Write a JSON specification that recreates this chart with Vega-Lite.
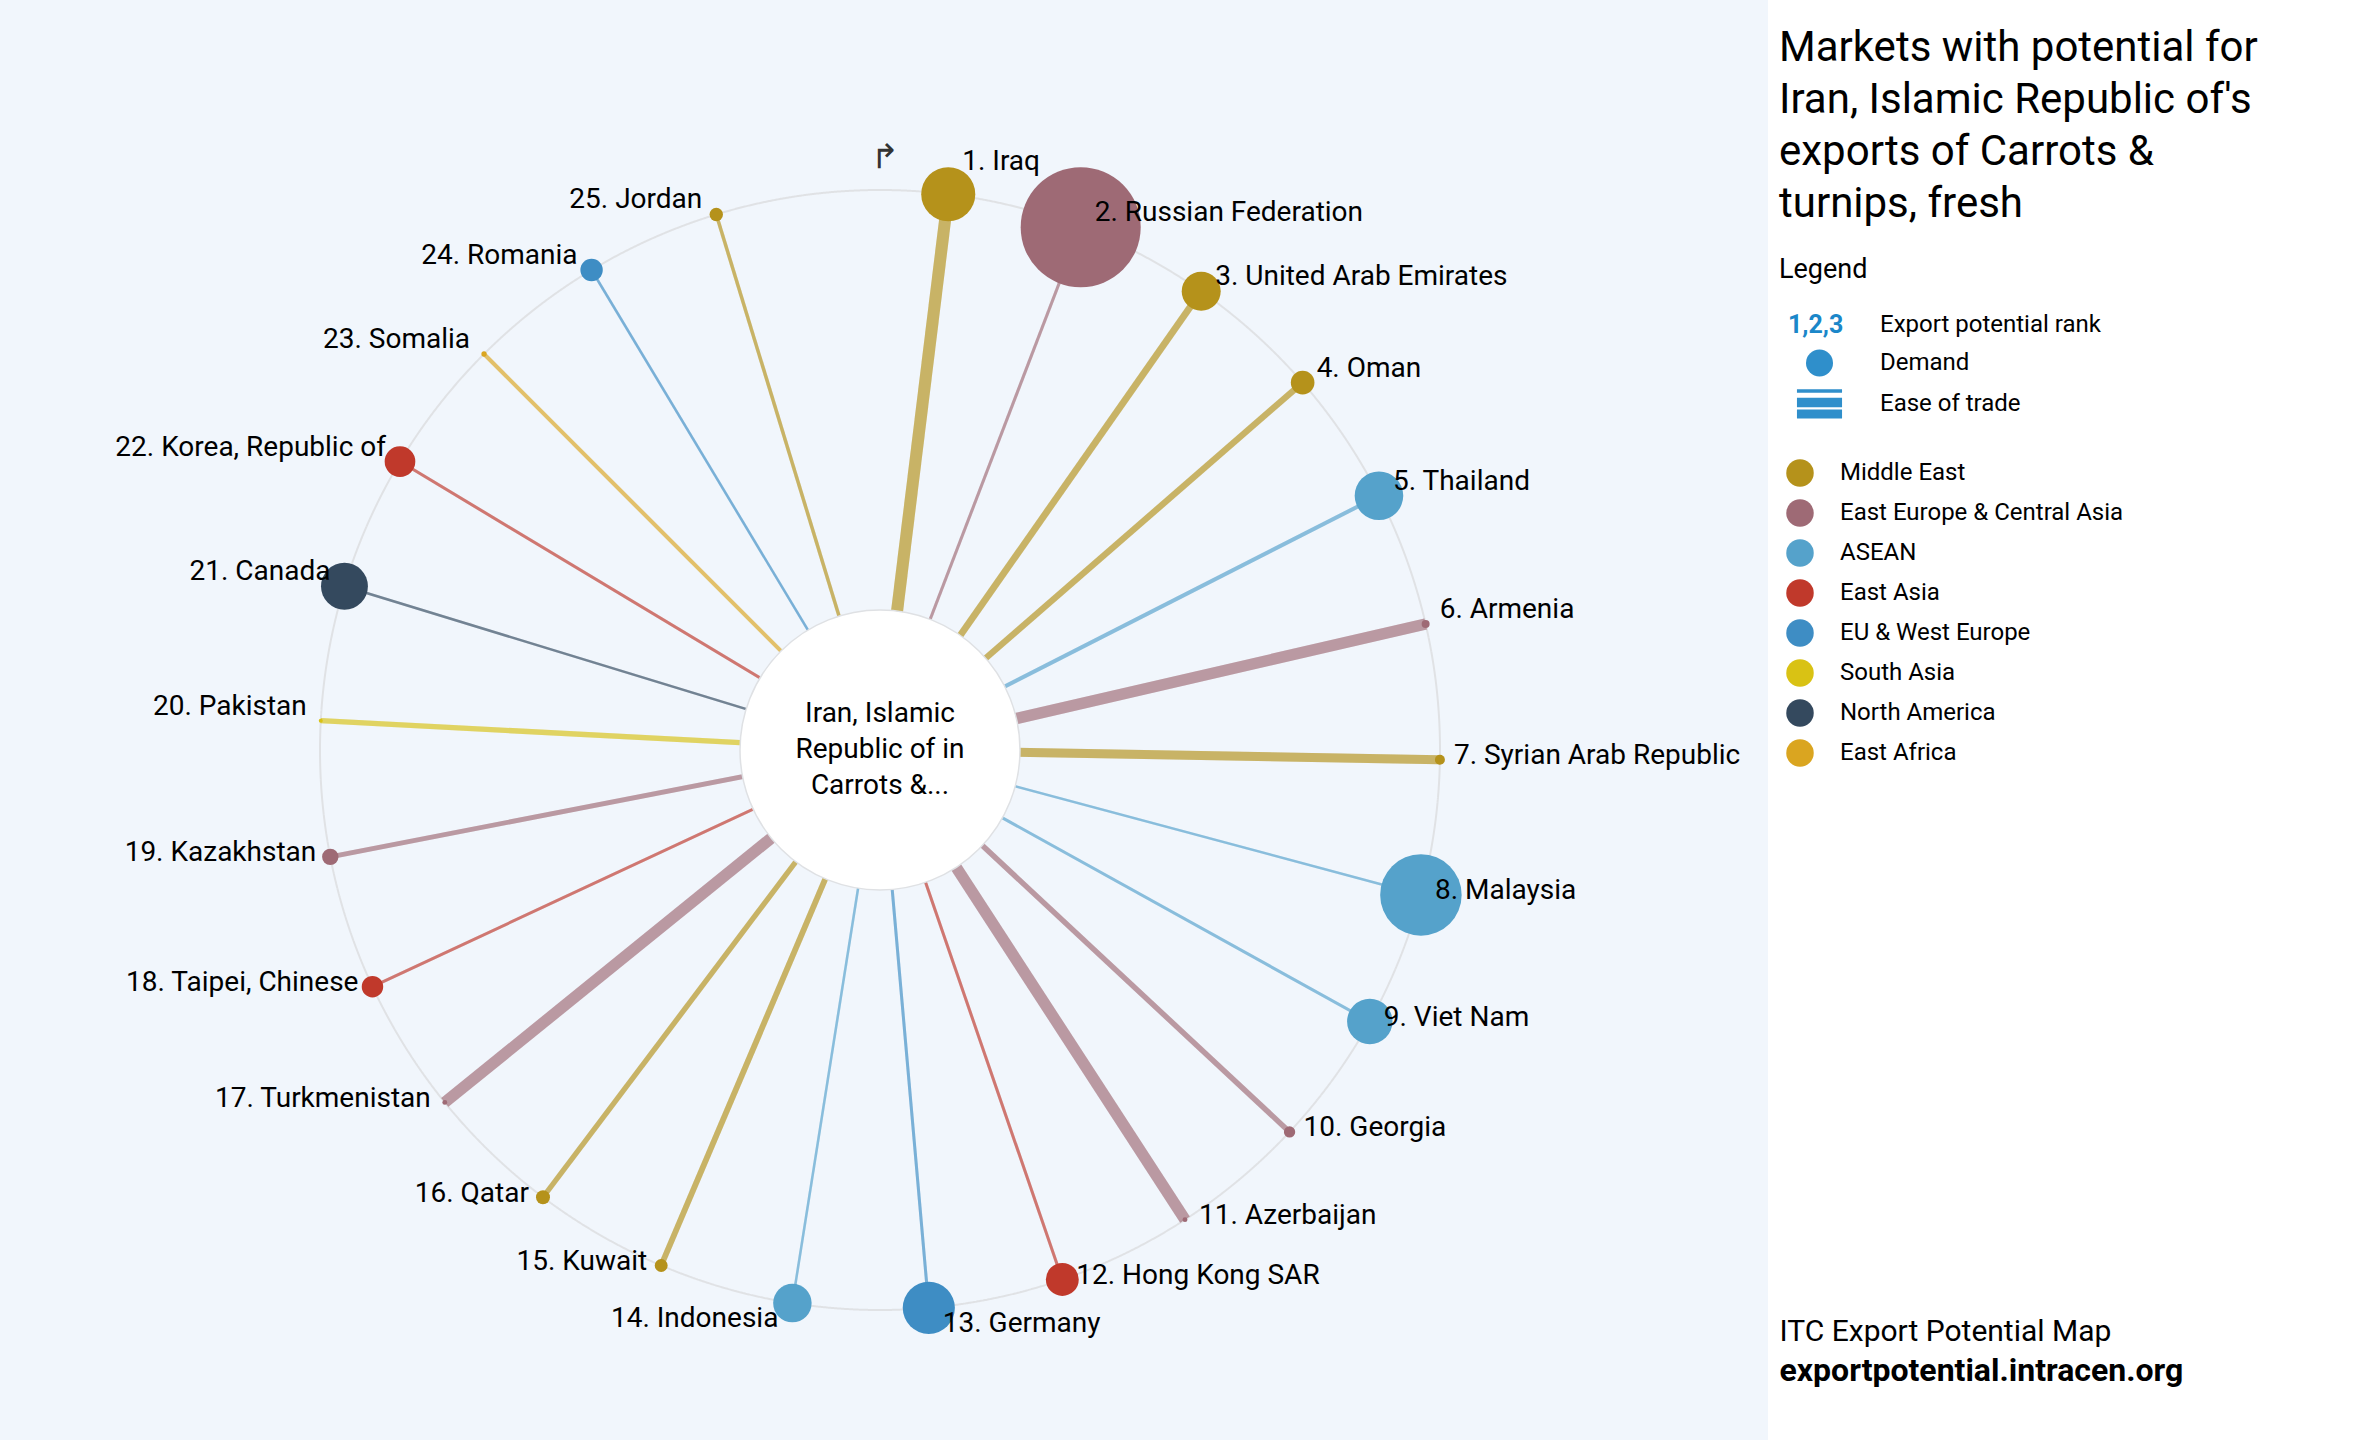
{
  "$schema": "https://vega.github.io/schema/vega-lite/v6.json",
  "width": 2360,
  "height": 1440,
  "autosize": {"type": "none"},
  "padding": 0,
  "background": "#ffffff",
  "title": {
    "text": ["Markets with potential for", "Iran, Islamic Republic of's", "exports of Carrots &", "turnips, fresh"],
    "orient": "none",
    "frame": "group",
    "anchor": "start",
    "align": "left",
    "baseline": "top",
    "dx": 1779,
    "dy": 28,
    "font": "Roboto",
    "fontSize": 42,
    "fontWeight": "normal",
    "lineHeight": 52,
    "color": "#000000"
  },
  "config": {
    "view": {
      "stroke": null,
      "fill": {
        "gradient": "linear",
        "x1": 0, "y1": 0, "x2": 1, "y2": 0,
        "stops": [
          {"offset": 0, "color": "#f1f6fc"},
          {"offset": 0.7492, "color": "#f1f6fc"},
          {"offset": 0.7492, "color": "#ffffff"},
          {"offset": 1, "color": "#ffffff"}
        ]
      }
    },
    "font": "Roboto",
    "legend": {
      "labelFont": "Roboto",
      "labelColor": "#000000",
      "labelFontSize": 24,
      "padding": 0,
      "titleFont": "Roboto",
      "titleColor": "#000000",
      "titleFontWeight": "normal",
      "labelLimit": 800,
      "symbolStrokeWidth": 0
    }
  },
  "datasets": {
    "markets": [
      {"rank": 1, "country": "Iraq", "region": "Middle East", "demand": 7.3, "ease": 100},
      {"rank": 2, "country": "Russian Federation", "region": "East Europe & Central Asia", "demand": 36, "ease": 25},
      {"rank": 3, "country": "United Arab Emirates", "region": "Middle East", "demand": 3.8, "ease": 56},
      {"rank": 4, "country": "Oman", "region": "Middle East", "demand": 1.4, "ease": 52},
      {"rank": 5, "country": "Thailand", "region": "ASEAN", "demand": 5.9, "ease": 33},
      {"rank": 6, "country": "Armenia", "region": "East Europe & Central Asia", "demand": 0.16, "ease": 95},
      {"rank": 7, "country": "Syrian Arab Republic", "region": "Middle East", "demand": 0.25, "ease": 75},
      {"rank": 8, "country": "Malaysia", "region": "ASEAN", "demand": 16.6, "ease": 21},
      {"rank": 9, "country": "Viet Nam", "region": "ASEAN", "demand": 5.15, "ease": 25},
      {"rank": 10, "country": "Georgia", "region": "East Europe & Central Asia", "demand": 0.32, "ease": 45},
      {"rank": 11, "country": "Azerbaijan", "region": "East Europe & Central Asia", "demand": 0.06, "ease": 95},
      {"rank": 12, "country": "Hong Kong SAR", "region": "East Asia", "demand": 2.7, "ease": 25},
      {"rank": 13, "country": "Germany", "region": "EU & West Europe", "demand": 6.8, "ease": 25},
      {"rank": 14, "country": "Indonesia", "region": "ASEAN", "demand": 3.7, "ease": 21},
      {"rank": 15, "country": "Kuwait", "region": "Middle East", "demand": 0.42, "ease": 48},
      {"rank": 16, "country": "Qatar", "region": "Middle East", "demand": 0.49, "ease": 44},
      {"rank": 17, "country": "Turkmenistan", "region": "East Europe & Central Asia", "demand": 0.06, "ease": 95},
      {"rank": 18, "country": "Taipei, Chinese", "region": "East Asia", "demand": 1.15, "ease": 25},
      {"rank": 19, "country": "Kazakhstan", "region": "East Europe & Central Asia", "demand": 0.67, "ease": 40},
      {"rank": 20, "country": "Pakistan", "region": "South Asia", "demand": 0.04, "ease": 44},
      {"rank": 21, "country": "Canada", "region": "North America", "demand": 5.5, "ease": 21},
      {"rank": 22, "country": "Korea, Republic of", "region": "East Asia", "demand": 2.35, "ease": 25},
      {"rank": 23, "country": "Somalia", "region": "East Africa", "demand": 0.07, "ease": 33},
      {"rank": 24, "country": "Romania", "region": "EU & West Europe", "demand": 1.25, "ease": 21},
      {"rank": 25, "country": "Jordan", "region": "Middle East", "demand": 0.45, "ease": 29}
    ]
  },
  "data": {"name": "markets"},
  "transform": [
    {"calculate": "(14 * datum.rank - 7) * PI / 180", "as": "theta"},
    {"calculate": "sin(datum.theta)", "as": "x"},
    {"calculate": "cos(datum.theta)", "as": "y"},
    {"calculate": "datum.rank + '. ' + datum.country", "as": "label"}
  ],
  "layer": [
    {
      "data": {"values": [{"guide": "outer ring"}]},
      "mark": {"type": "point", "filled": false, "shape": "circle", "size": 1254400, "stroke": "#e0e2e5", "strokeWidth": 2, "opacity": 1},
      "encoding": {
        "x": {
          "datum": 0, "type": "quantitative",
          "scale": {"domain": [-1.571429, 2.642857], "nice": false, "zero": false},
          "axis": {"title": "ITC Export Potential Map", "orient": "bottom", "labels": false, "ticks": false, "domain": false, "grid": false, "titleX": 1779, "titleY": -100, "titleAnchor": "start", "titleAlign": "left", "titleBaseline": "alphabetic", "titleFont": "Roboto", "titleFontSize": 30, "titleFontWeight": "normal", "titleColor": "#000000", "titlePadding": 0}
        },
        "y": {
          "datum": 0, "type": "quantitative",
          "scale": {"domain": [-1.232143, 1.339286], "nice": false, "zero": false},
          "axis": {"title": "exportpotential.intracen.org", "orient": "left", "labels": false, "ticks": false, "domain": false, "grid": false, "titleAngle": 0, "titleX": 1779, "titleY": 1380, "titleAlign": "left", "titleBaseline": "alphabetic", "titleFont": "Roboto", "titleFontSize": 32, "titleFontWeight": "bold", "titleColor": "#000000", "titlePadding": 0}
        },
        "strokeDash": {
          "datum": "1,2,3", "type": "nominal",
          "scale": {"domain": ["1,2,3"], "range": [[1, 0]]},
          "legend": {"orient": "none", "legendX": 1779, "legendY": 257, "title": "Legend", "titleFontSize": 27, "titlePadding": 28, "titleFontWeight": "normal", "symbolType": "circle", "symbolSize": 1, "symbolOpacity": 0, "labelOffset": -16, "labelFontSize": 25, "labelFontWeight": "bold", "labelColor": "#1b87c9"}
        }
      }
    },
    {
      "mark": {"type": "rule", "opacity": 0.58, "strokeCap": "butt"},
      "encoding": {
        "x": {"field": "x", "type": "quantitative"},
        "y": {"field": "y", "type": "quantitative"},
        "x2": {"datum": 0},
        "y2": {"datum": 0},
        "stroke": {"field": "region", "type": "nominal", "scale": {"domain": ["East Africa", "North America", "South Asia", "EU & West Europe", "East Asia", "ASEAN", "East Europe & Central Asia", "Middle East"], "range": ["#daa520", "#34495e", "#d9c214", "#3e8dc4", "#c0392b", "#55a2cb", "#9e6a75", "#b5921b"]}, "legend": null},
        "strokeWidth": {"field": "ease", "type": "quantitative", "scale": {"domain": [0, 100], "range": [0, 12]}, "legend": null}
      }
    },
    {
      "mark": {"type": "rule", "opacity": 0.2, "strokeCap": "butt"},
      "encoding": {
        "x": {"field": "x", "type": "quantitative"},
        "y": {"field": "y", "type": "quantitative"},
        "x2": {"datum": 0},
        "y2": {"datum": 0},
        "stroke": {"field": "region", "type": "nominal", "legend": null},
        "strokeWidth": {"field": "ease", "type": "quantitative", "legend": null}
      }
    },
    {
      "data": {"values": [{"exporter": "Iran, Islamic\nRepublic of in\nCarrots &..."}]},
      "mark": {"type": "point", "filled": true, "shape": "circle", "size": 78400, "fill": "#ffffff", "stroke": "#dfe1e4", "strokeWidth": 1.5, "opacity": 1},
      "encoding": {
        "x": {"datum": 0, "type": "quantitative"},
        "y": {"datum": 0, "type": "quantitative"}
      }
    },
    {
      "data": {"values": [{"exporter": "Iran, Islamic\nRepublic of in\nCarrots &..."}]},
      "mark": {"type": "text", "align": "center", "baseline": "middle", "dy": -36, "fontSize": 28, "lineHeight": 36, "lineBreak": "\n", "font": "Roboto", "color": "#000000"},
      "encoding": {
        "x": {"datum": 0, "type": "quantitative"},
        "y": {"datum": 0, "type": "quantitative"},
        "text": {"field": "exporter"}
      }
    },
    {
      "mark": {"type": "point", "filled": true, "shape": "circle", "opacity": 1, "strokeWidth": 0},
      "encoding": {
        "x": {"field": "x", "type": "quantitative"},
        "y": {"field": "y", "type": "quantitative"},
        "size": {"field": "demand", "type": "quantitative", "scale": {"domain": [0, 36], "range": [0, 14400]}, "legend": null},
        "fill": {
          "field": "region", "type": "nominal",
          "scale": {"domain": ["Middle East", "East Europe & Central Asia", "ASEAN", "East Asia", "EU & West Europe", "South Asia", "North America", "East Africa"], "range": ["#b5921b", "#9e6a75", "#55a2cb", "#c0392b", "#3e8dc4", "#d9c214", "#34495e", "#daa520"]},
          "legend": {"orient": "none", "legendX": 1786, "legendY": 459, "title": null, "symbolType": "circle", "symbolSize": 756, "labelOffset": 26, "rowPadding": 12, "labelFontSize": 24, "symbolStrokeWidth": 0, "symbolOpacity": 1}
        },
        "shape": {
          "datum": "Demand", "type": "nominal",
          "scale": {"domain": ["Export potential rank", "Demand", "Ease of trade"], "range": ["M0,0Z", "circle", "M-1.67,-1.09H1.67V-0.84H-1.67Z M-1.67,-0.47H1.67V0.24H-1.67Z M-1.67,0.41H1.67V1.08H-1.67Z"]},
          "legend": {"orient": "none", "legendX": 1806, "legendY": 311.5, "title": null, "symbolSize": 729, "labelOffset": 47, "rowPadding": 12, "labelFontSize": 24, "symbolStrokeWidth": 0, "symbolFillColor": "#2f8fcb", "symbolOpacity": 1}
        }
      }
    },
    {
      "transform": [{"filter": "datum.rank == 1"}],
      "mark": {"type": "text", "align": "left", "baseline": "alphabetic", "dx": 14, "dy": -24, "fontSize": 28, "font": "Roboto", "color": "#000000"},
      "encoding": {"x": {"field": "x", "type": "quantitative"}, "y": {"field": "y", "type": "quantitative"}, "text": {"field": "label"}}
    },
    {
      "transform": [{"filter": "datum.rank >= 2 && datum.rank <= 6"}],
      "mark": {"type": "text", "align": "left", "baseline": "alphabetic", "dx": 14, "dy": -6, "fontSize": 28, "font": "Roboto", "color": "#000000"},
      "encoding": {"x": {"field": "x", "type": "quantitative"}, "y": {"field": "y", "type": "quantitative"}, "text": {"field": "label"}}
    },
    {
      "transform": [{"filter": "datum.rank >= 7 && datum.rank <= 12"}],
      "mark": {"type": "text", "align": "left", "baseline": "alphabetic", "dx": 14, "dy": 4.5, "fontSize": 28, "font": "Roboto", "color": "#000000"},
      "encoding": {"x": {"field": "x", "type": "quantitative"}, "y": {"field": "y", "type": "quantitative"}, "text": {"field": "label"}}
    },
    {
      "transform": [{"filter": "datum.rank == 13"}],
      "mark": {"type": "text", "align": "left", "baseline": "alphabetic", "dx": 14, "dy": 24, "fontSize": 28, "font": "Roboto", "color": "#000000"},
      "encoding": {"x": {"field": "x", "type": "quantitative"}, "y": {"field": "y", "type": "quantitative"}, "text": {"field": "label"}}
    },
    {
      "transform": [{"filter": "datum.rank == 14"}],
      "mark": {"type": "text", "align": "right", "baseline": "alphabetic", "dx": -14, "dy": 24, "fontSize": 28, "font": "Roboto", "color": "#000000"},
      "encoding": {"x": {"field": "x", "type": "quantitative"}, "y": {"field": "y", "type": "quantitative"}, "text": {"field": "label"}}
    },
    {
      "transform": [{"filter": "datum.rank >= 15 && datum.rank <= 19"}],
      "mark": {"type": "text", "align": "right", "baseline": "alphabetic", "dx": -14, "dy": 4.5, "fontSize": 28, "font": "Roboto", "color": "#000000"},
      "encoding": {"x": {"field": "x", "type": "quantitative"}, "y": {"field": "y", "type": "quantitative"}, "text": {"field": "label"}}
    },
    {
      "transform": [{"filter": "datum.rank >= 20"}],
      "mark": {"type": "text", "align": "right", "baseline": "alphabetic", "dx": -14, "dy": -6, "fontSize": 28, "font": "Roboto", "color": "#000000"},
      "encoding": {"x": {"field": "x", "type": "quantitative"}, "y": {"field": "y", "type": "quantitative"}, "text": {"field": "label"}}
    },
    {
      "data": {"values": [{"marker": "↱"}]},
      "mark": {"type": "text", "align": "center", "baseline": "middle", "fontSize": 34, "font": "DejaVu Sans ExtraLight, DejaVu Sans", "fontWeight": "normal", "color": "#333333"},
      "encoding": {
        "x": {"datum": 0.009, "type": "quantitative"},
        "y": {"datum": 1.057, "type": "quantitative"},
        "text": {"field": "marker"}
      }
    }
  ]
}
